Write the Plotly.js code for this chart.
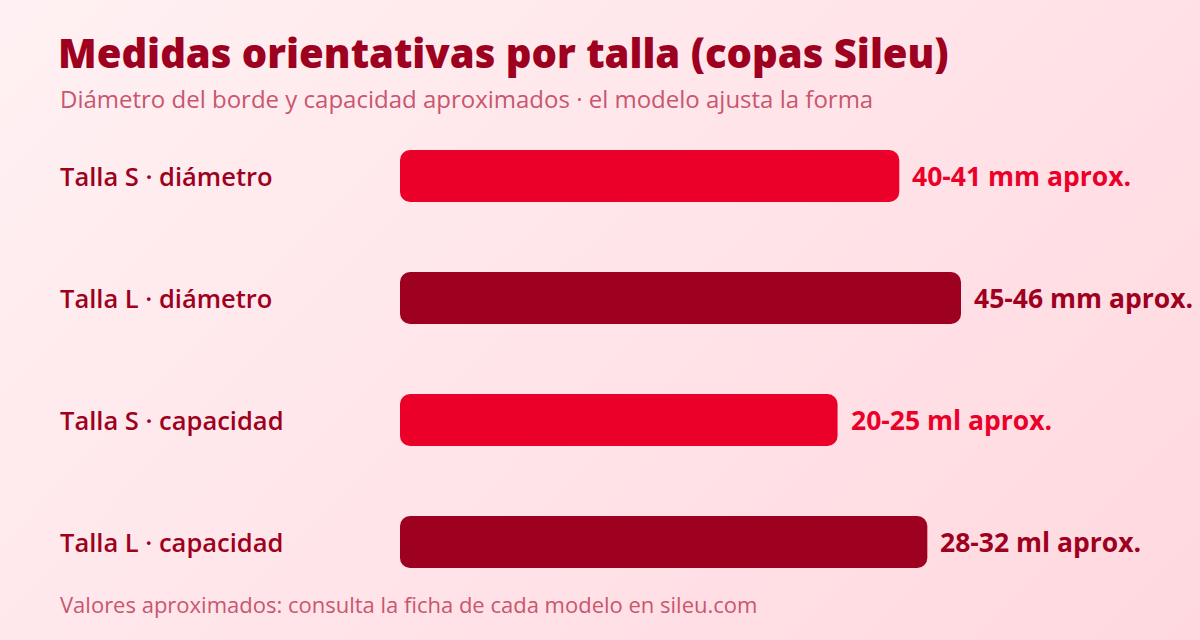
<!DOCTYPE html>
<html>
<head>
<meta charset="utf-8">
<script src="https://cdn.plot.ly/plotly-3.0.1.min.js"></script>
<style>
  html, body { margin: 0; padding: 0; }
  body {
    width: 1200px; height: 640px; overflow: hidden;
    background: linear-gradient(135deg, #fff1f3 0%, #ffe3e8 55%, #ffd8df 100%);
  }
  #chart { width: 1200px; height: 640px; }
</style>
</head>
<body>
<div id="chart"></div>
<script>
// ─── data ───────────────────────────────────────────────
var categories = ['Talla S · diámetro', 'Talla L · diámetro', 'Talla S · capacidad', 'Talla L · capacidad'];
var barValues = [89, 100, 78, 94];           // relative bar length
var valueLabels = ['40-41 mm aprox.', '45-46 mm aprox.', '20-25 ml aprox.', '28-32 ml aprox.'];
var sizes = ['S', 'L', 'S', 'L'];

var RED = '#eb0029';
var DARK = '#9e0020';
var MUTED = '#c9566f';
var FONT = '"Open Sans", "Noto Sans", sans-serif';

var colors = sizes.map(function (s) { return s === 'S' ? RED : DARK; });

var W = 1200, H = 640;
var marginL = 400, marginR = 0, marginT = 115, marginB = 37;
var plotW = W - marginL - marginR;
var plotH = H - marginT - marginB;
var pxPerUnit = 561 / 100;
var BAR_W = 0.426;

// Plotly only rounds the far end of a bar, so the left end is a second,
// backwards-pointing bar; the main bar sits on top and hides the overlap.
var CAP = 3;
var capStart = categories.map(function () { return CAP * 4; });

var leftPiece = {
  type: 'bar', orientation: 'h',
  y: categories,
  x: capStart.map(function (c) { return -c; }),
  base: capStart,
  width: BAR_W,
  marker: { color: colors, cornerradius: 10, line: { width: 0 } },
  hoverinfo: 'none',
};
var mainPiece = {
  type: 'bar', orientation: 'h',
  y: categories,
  x: barValues.map(function (v) { return v - CAP; }),
  base: categories.map(function () { return CAP; }),
  width: BAR_W,
  marker: { color: colors, cornerradius: 10, line: { width: 0 } },
  hoverinfo: 'none',
};

function paperX(px) { return (px - marginL) / plotW; }
function paperY(py) { return (H - marginB - py) / plotH; }

var annotations = [];

// row labels on the left
categories.forEach(function (c) {
  annotations.push({
    text: c, xref: 'paper', yref: 'y', x: paperX(58), y: c,
    xanchor: 'left', yanchor: 'middle', showarrow: false,
    font: { family: FONT, size: 25.5, weight: 600, color: DARK },
  });
});

// value labels at bar ends
categories.forEach(function (c, i) {
  annotations.push({
    text: valueLabels[i], xref: 'x', yref: 'y', x: barValues[i], y: c,
    xanchor: 'left', yanchor: 'middle', xshift: 11, showarrow: false,
    font: { family: FONT, size: 26.5, weight: 700, color: colors[i] },
  });
});

// subtitle + footer
annotations.push({
  text: 'Diámetro del borde y capacidad aproximados · el modelo ajusta la forma',
  xref: 'paper', yref: 'paper', x: paperX(58), y: paperY(98),
  xanchor: 'left', yanchor: 'middle', showarrow: false,
  font: { family: FONT, size: 24, color: MUTED },
});
annotations.push({
  text: 'Valores aproximados: consulta la ficha de cada modelo en sileu.com',
  xref: 'paper', yref: 'paper', x: paperX(58), y: paperY(604),
  xanchor: 'left', yanchor: 'middle', showarrow: false,
  font: { family: FONT, size: 22, color: MUTED },
});

var layout = {
  width: W, height: H,
  paper_bgcolor: 'rgba(0,0,0,0)',
  plot_bgcolor: 'rgba(0,0,0,0)',
  margin: { l: marginL, r: marginR, t: marginT, b: marginB, pad: 0 },
  showlegend: false,
  barmode: 'overlay',
  title: {
    text: 'Medidas orientativas por talla (copas Sileu)',
    x: 58 / W, xanchor: 'left', xref: 'container',
    y: 1 - 54 / H, yanchor: 'middle', yref: 'container',
    font: { family: FONT, size: 40, weight: 800, color: DARK },
  },
  xaxis: {
    range: [0, plotW / pxPerUnit],
    visible: false, fixedrange: true,
  },
  yaxis: {
    autorange: 'reversed',
    showticklabels: false, showgrid: false, zeroline: false, showline: false,
    fixedrange: true,
  },
  annotations: annotations,
};

Plotly.newPlot('chart', [leftPiece, mainPiece], layout, { displayModeBar: false, staticPlot: true });
</script>
</body>
</html>
